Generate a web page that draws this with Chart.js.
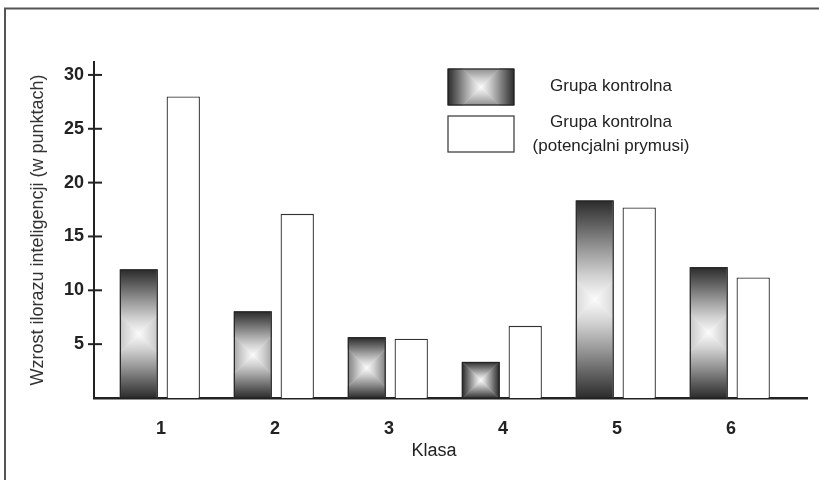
<!DOCTYPE html>
<html lang="pl">
  <head>
    <meta charset="utf-8">
    <title>Wzrost ilorazu inteligencji</title>
    <style>
      html, body { margin: 0; padding: 0; background: #fff; }
      #wrap { width: 819px; height: 480px; }
    </style>
  </head>
  <body>
    <div id="wrap"><canvas id="myChart" width="819" height="480"></canvas></div>

    <script src="https://cdn.jsdelivr.net/npm/chart.js@4.4.1/dist/chart.umd.min.js"></script>
    <script>
      // dane
      const klasy = ['1', '2', '3', '4', '5', '6'];
      const grupaKontrolna = [11.9, 8.0, 5.6, 3.3, 18.3, 12.1];
      const potencjalniPrymusi = [28.0, 17.1, 5.5, 6.7, 17.7, 11.2];
      const yTicks = [5, 10, 15, 20, 25, 30];
      const labelA = 'Grupa kontrolna';
      const labelB = 'Grupa kontrolna\n(potencjalni prymusi)';

      const FONT = '"Liberation Sans", Arial, sans-serif';
      const INK = '#222';

      // gradient "kwadratowy": ciemne krawedzie, jasny srodek, zalamania pod 45 stopni
      function boxGradient(ctx, x0, y0, x1, y1) {
        const cx = (x0 + x1) / 2, cy = (y0 + y1) / 2;
        const hw = (x1 - x0) / 2, hh = (y1 - y0) / 2;
        const R = Math.max(hw, hh), m = Math.min(hw, hh);
        const stops = [[0, '#2c2c2c'], [0.25, '#626262'], [0.5, '#9a9a9a'], [0.75, '#cfcfcf'], [1, '#fbfbfb']];
        const parts = [
          // [wielokat, gradient od -> do]
          [[[x0, y0], [x1, y0], [cx + m, cy - m], [cx, cy], [cx - m, cy - m]], [cx, cy - R, cx, cy]],
          [[[x0, y1], [x1, y1], [cx + m, cy + m], [cx, cy], [cx - m, cy + m]], [cx, cy + R, cx, cy]],
          [[[x0, y0], [cx - m, cy - m], [cx, cy], [cx - m, cy + m], [x0, y1]], [cx - R, cy, cx, cy]],
          [[[x1, y0], [cx + m, cy - m], [cx, cy], [cx + m, cy + m], [x1, y1]], [cx + R, cy, cx, cy]]
        ];
        parts.forEach(([poly, g4]) => {
          const g = ctx.createLinearGradient(g4[0], g4[1], g4[2], g4[3]);
          stops.forEach(s => g.addColorStop(s[0], s[1]));
          ctx.beginPath();
          poly.forEach((p, i) => (i ? ctx.lineTo(p[0], p[1]) : ctx.moveTo(p[0], p[1])));
          ctx.closePath();
          ctx.fillStyle = g;
          ctx.fill();
          ctx.strokeStyle = g;
          ctx.lineWidth = 0.5;
          ctx.stroke();
        });
      }

      const decor = {
        id: 'decor',
        beforeDraw(chart) {
          const ctx = chart.ctx;
          ctx.save();
          ctx.fillStyle = '#fff';
          ctx.fillRect(0, 0, chart.width, chart.height);
          ctx.strokeStyle = '#555';
          ctx.lineWidth = 2;
          ctx.strokeRect(5, 8.5, chart.width + 20, chart.height + 20);
          ctx.restore();
        },
        afterDatasetsDraw(chart) {
          const ctx = chart.ctx;
          ctx.save();
          chart.getDatasetMeta(0).data.forEach(bar => {
            const x0 = bar.x - bar.width / 2, x1 = bar.x + bar.width / 2;
            const y0 = Math.min(bar.y, bar.base), y1 = Math.max(bar.y, bar.base);
            boxGradient(ctx, x0, y0, x1, y1);
            ctx.strokeStyle = INK;
            ctx.lineWidth = 1.2;
            ctx.strokeRect(x0, y0, x1 - x0, y1 - y0);
          });
          ctx.restore();
        },
        afterDraw(chart) {
          const ctx = chart.ctx;
          const y = chart.scales.y, area = chart.chartArea;
          ctx.save();
          // znaczniki osi Y przecinajace os
          ctx.strokeStyle = INK;
          ctx.lineWidth = 2;
          y.ticks.forEach(t => {
            const py = y.getPixelForValue(t.value);
            ctx.beginPath();
            ctx.moveTo(area.left - 6, py);
            ctx.lineTo(area.left + 8, py);
            ctx.stroke();
          });
          // tytul osi X
          ctx.fillStyle = INK;
          ctx.font = '18px ' + FONT;
          ctx.textAlign = 'center';
          ctx.textBaseline = 'middle';
          ctx.fillText('Klasa', area.left + 340, 451);
          // legenda
          const sw = { x: 448, w: 66, h: 36 };
          boxGradient(ctx, sw.x, 69, sw.x + sw.w, 69 + sw.h);
          ctx.lineWidth = 1.2;
          ctx.strokeStyle = INK;
          ctx.strokeRect(sw.x, 69, sw.w, sw.h);
          ctx.fillStyle = '#fff';
          ctx.fillRect(sw.x, 116, sw.w, sw.h);
          ctx.strokeStyle = '#333';
          ctx.strokeRect(sw.x, 116, sw.w, sw.h);
          ctx.fillStyle = INK;
          ctx.font = '17px ' + FONT;
          const ds = chart.data.datasets;
          ctx.fillText(ds[0].label, 611, 86);
          ds[1].label.split('\n').forEach((line, i) => ctx.fillText(line, 611, 122 + i * 24));
          ctx.restore();
        }
      };

      const ctx = document.getElementById('myChart').getContext('2d');
      const chart = new Chart(ctx, {
        type: 'bar',
        data: {
          datasets: [{
            label: labelA,
            data: klasy.map((k, i) => ({ x: i + 1, y: grupaKontrolna[i] })),
            backgroundColor: 'rgba(0,0,0,0)',
            borderWidth: 0,
            barPercentage: 0.83,
            categoryPercentage: 0.78
          }, {
            label: labelB,
            data: klasy.map((k, i) => ({ x: i + 1, y: potencjalniPrymusi[i] })),
            backgroundColor: '#fff',
            borderColor: '#333',
            borderWidth: 1.3,
            borderSkipped: 'bottom',
            barPercentage: 0.75,
            categoryPercentage: 0.78
          }]
        },
        options: {
          responsive: false,
          animation: false,
          layout: { padding: { top: 62, right: 12, left: 0, bottom: 0 } },
          plugins: { legend: { display: false }, tooltip: { enabled: false } },
          scales: {
            x: {
              type: 'linear',
              offset: false,
              min: 0.412,
              max: 6.667,
              afterBuildTicks: s => { s.ticks = klasy.map((k, i) => ({ value: i + 1 })); },
              afterFit: s => { s.height = 82; },
              grid: { display: false, drawTicks: false, offset: false },
              border: { display: true, color: INK, width: 2.5 },
              ticks: {
                padding: 20,
                color: INK,
                font: { family: FONT, size: 18, weight: 'bold' },
                callback: (v, i) => klasy[i]
              }
            },
            y: {
              min: 0,
              max: 31.2,
              afterBuildTicks: s => { s.ticks = yTicks.map(v => ({ value: v })); },
              afterFit: s => { s.width = 94; },
              grid: { display: false, drawTicks: false },
              border: { display: true, color: INK, width: 2 },
              ticks: {
                padding: 10,
                color: INK,
                font: { family: FONT, size: 18, weight: 'bold' }
              },
              title: {
                display: true,
                text: 'Wzrost ilorazu inteligencji (w punktach)',
                color: '#333',
                font: { family: FONT, size: 18 },
                padding: { top: 27, bottom: 0 }
              }
            }
          }
        },
        plugins: [decor]
      });
    </script>
  </body>
</html>
